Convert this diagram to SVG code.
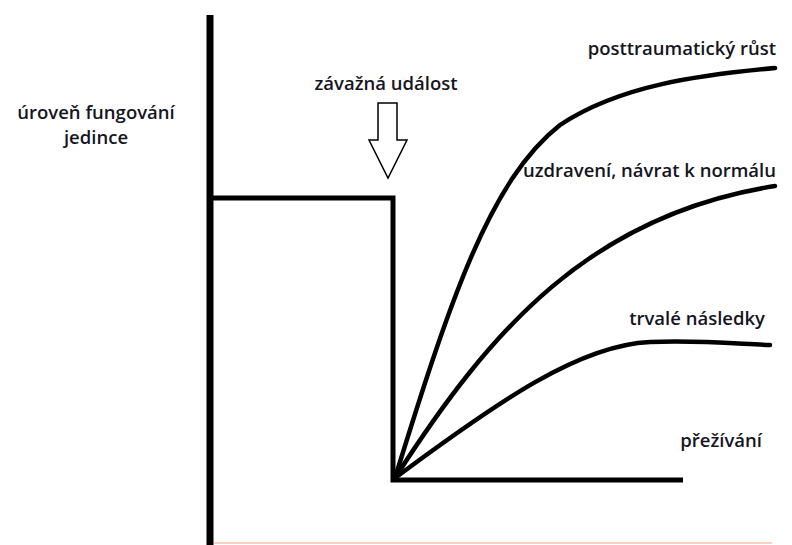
<svg xmlns="http://www.w3.org/2000/svg" width="792" height="545" viewBox="0 0 792 545">
<style>
.t{font-family:"Open Sans","Liberation Sans",sans-serif;font-weight:600;font-size:18.5px;fill:#15151f}
.ln{fill:none;stroke:#000;stroke-width:5;stroke-linecap:butt;stroke-linejoin:miter}
.cv{fill:none;stroke:#000;stroke-width:4.5;stroke-linecap:round}
</style>
<rect width="792" height="545" fill="#fff"/>
<g id="axes">
<line x1="210" y1="15" x2="210" y2="545" stroke="#000" stroke-width="7"/>
<line x1="214" y1="543" x2="772" y2="543" stroke="#f9d2c2" stroke-width="2"/>
</g>
<g id="connectors">
<polyline class="ln" points="213,198 393,198 393,480 683,480"/>
<path id="c1" class="cv" d="M395,478 C450,300 490,180 560,125 C620,85 700,75 775,68"/>
<path id="c2" class="cv" d="M395,478 C490,330 590,215 775,186"/>
<path id="c3" class="cv" d="M395,478 C500,400 580,345 650,342 C700,340 740,344 770,345"/>
</g>
<g id="arrow">
<path d="M378,103 L397,103 L397,140 L407,140 L388,178 L369,140 L378,140 Z" fill="#fff" stroke="#000" stroke-width="1.5"/>
</g>
<g id="labels">
<text class="t" x="96" y="119" text-anchor="middle">úroveň fungování</text>
<text class="t" x="96" y="144" text-anchor="middle">jedince</text>
<text class="t" x="386" y="90" text-anchor="middle">závažná událost</text>
<text class="t" x="776" y="55" text-anchor="end">posttraumatický růst</text>
<text class="t" x="776" y="177" text-anchor="end">uzdravení, návrat k normálu</text>
<text class="t" x="765" y="325" text-anchor="end">trvalé následky</text>
<text class="t" x="762" y="447" text-anchor="end">přežívání</text>
</g>
</svg>
